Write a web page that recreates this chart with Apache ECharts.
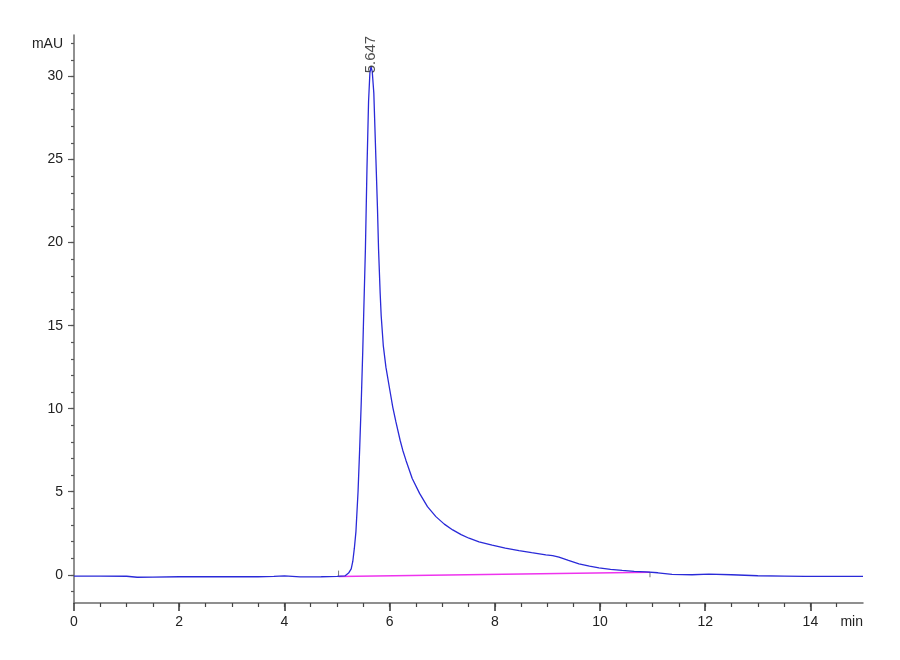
<!DOCTYPE html>
<html>
<head>
<meta charset="utf-8">
<title>Chromatogram 5.647</title>
<script src="https://cdn.jsdelivr.net/npm/echarts@6/dist/echarts.min.js"></script>
<style>
    html, body { margin: 0; padding: 0; background: #fff; }
    #chart { width: 900px; height: 660px; }
</style>
</head>
<body>
<div id="chart"></div>
<script>
// retention time (min) and signal (mAU)
const times = [
    0, 0.5, 1.0, 1.2, 1.5, 2.0, 2.5, 3.0, 3.5, 3.8, 4.0, 4.3, 4.7, 5.0, 5.15,
    5.22, 5.27, 5.30, 5.33, 5.36, 5.40, 5.43, 5.46, 5.49, 5.51, 5.54, 5.57, 5.60, 5.625,
    5.647, 5.67, 5.70, 5.74, 5.77, 5.79, 5.82, 5.84, 5.88, 5.93, 6.0, 6.06, 6.12, 6.2,
    6.25, 6.31, 6.43, 6.57, 6.72, 6.88, 7.04, 7.2, 7.36, 7.51, 7.7, 7.95, 8.2, 8.46,
    8.7, 8.97, 9.1, 9.22, 9.4, 9.6, 9.8, 9.98, 10.2, 10.42, 10.65, 10.87, 11.1, 11.37,
    11.75, 12.07, 12.5, 13.0, 13.5, 13.9, 14.5, 15.0
];
const signal = [
    -0.08, -0.08, -0.09, -0.15, -0.14, -0.12, -0.12, -0.12, -0.12, -0.1, -0.07, -0.13, -0.12, -0.1, -0.07,
    0.1, 0.35, 0.8, 1.6, 2.6, 5.0, 7.5, 10.3, 13.5, 16.0, 19.6, 24.5, 28.5, 30.2,
    30.6, 30.3, 29.0, 25.0, 22.0, 19.6, 17.0, 15.6, 13.8, 12.5, 11.2, 10.1, 9.2, 8.1,
    7.5, 6.9, 5.8, 4.9, 4.1, 3.5, 3.05, 2.7, 2.42, 2.2, 1.98, 1.78, 1.6, 1.45,
    1.33, 1.2, 1.15, 1.06, 0.86, 0.66, 0.52, 0.42, 0.33, 0.26, 0.21, 0.17, 0.12, 0.02,
    0.0, 0.04, 0.0, -0.06, -0.08, -0.1, -0.1, -0.1
];

// integration baseline (start / end of peak)
const baseTimes = [5.03, 10.95];
const baseValues = [-0.1, 0.15];

// peak apex
const peakTime = 5.647;
const peakValue = 30.6;
const peakLabel = '5.647';

// axis ticks
const xMajorTicks = [0, 2, 4, 6, 8, 10, 12, 14];
const yMajorTicks = [0, 5, 10, 15, 20, 25, 30];
const xMinorTicks = [];
for (let t = 0.5; t < 15; t += 0.5) xMinorTicks.push(t);
const yMinorTicks = [];
for (let v = -1; v <= 32; v += 1) yMinorTicks.push(v);

const fontFam = "'Liberation Sans Narrow', 'Arial Narrow', 'Liberation Sans', Arial, sans-serif";
const axisColor = '#6b6b6b';
const labelColor = '#222';

const chart = echarts.init(document.getElementById('chart'));

const traceData = times.map((t, i) => [t, signal[i]]);
const baseData = baseTimes.map((t, i) => [t, baseValues[i]]);
const eventData = [
    [baseTimes[0], baseValues[0]], [baseTimes[0], baseValues[0] + 0.35], '-',
    [baseTimes[1], baseValues[1]], [baseTimes[1], baseValues[1] - 0.3]
];

const option = {
    animation: false,
    grid: { left: 74, right: 37, top: 35, bottom: 57 },
    xAxis: [
        {
            type: 'value', min: 0, max: 15,
            axisLine: { show: true, onZero: false, lineStyle: { color: axisColor, width: 1.5 } },
            axisTick: { show: true, inside: false, length: 8, customValues: xMajorTicks,
                lineStyle: { color: '#333', width: 1.5 } },
            axisLabel: { customValues: xMajorTicks, margin: 12, color: labelColor,
                fontSize: 14, fontFamily: fontFam },
            splitLine: { show: false }
        },
        {
            type: 'value', min: 0, max: 15, position: 'bottom',
            axisLine: { show: false, onZero: false },
            axisTick: { show: true, length: 4, customValues: xMinorTicks,
                lineStyle: { color: '#444', width: 1.2 } },
            axisLabel: { show: false },
            splitLine: { show: false }
        }
    ],
    yAxis: [
        {
            type: 'value', min: -1.7, max: 32.5,
            axisLine: { show: true, onZero: false, lineStyle: { color: axisColor, width: 1.5 } },
            axisTick: { show: true, length: 6, customValues: yMajorTicks,
                lineStyle: { color: '#555', width: 1.2 } },
            axisLabel: { customValues: yMajorTicks, margin: 11, color: labelColor,
                fontSize: 14, fontFamily: fontFam },
            splitLine: { show: false }
        },
        {
            type: 'value', min: -1.7, max: 32.5, position: 'left',
            axisLine: { show: false, onZero: false },
            axisTick: { show: true, length: 3, customValues: yMinorTicks,
                lineStyle: { color: '#555', width: 1.2 } },
            axisLabel: { show: false },
            splitLine: { show: false }
        }
    ],
    series: [
        {
            name: 'baseline',
            type: 'line',
            data: baseData,
            symbol: 'none',
            lineStyle: { color: '#ee33ee', width: 1.5 },
            z: 2
        },
        {
            name: 'events',
            type: 'line',
            data: eventData,
            symbol: 'none',
            connectNulls: false,
            lineStyle: { color: '#777', width: 1 },
            z: 2
        },
        {
            name: 'signal',
            type: 'line',
            data: traceData,
            symbol: 'none',
            lineStyle: { color: '#2a2ad8', width: 1.3 },
            z: 3
        },
        {
            name: 'peak',
            type: 'scatter',
            data: [[peakTime, peakValue]],
            symbolSize: 0,
            label: {
                show: true,
                formatter: peakLabel,
                position: 'inside',
                rotate: 90,
                offset: [12, 0],
                color: '#222',
                fontSize: 15,
                fontFamily: fontFam
            },
            z: 4
        }
    ],
    graphic: [
        { type: 'text', right: 900 - 63, top: 37,
            style: { text: 'mAU', fill: labelColor, font: '14px ' + fontFam } },
        { type: 'text', right: 37, top: 615,
            style: { text: 'min', fill: labelColor, font: '14px ' + fontFam } }
    ]
};

chart.setOption(option);
</script>
</body>
</html>
